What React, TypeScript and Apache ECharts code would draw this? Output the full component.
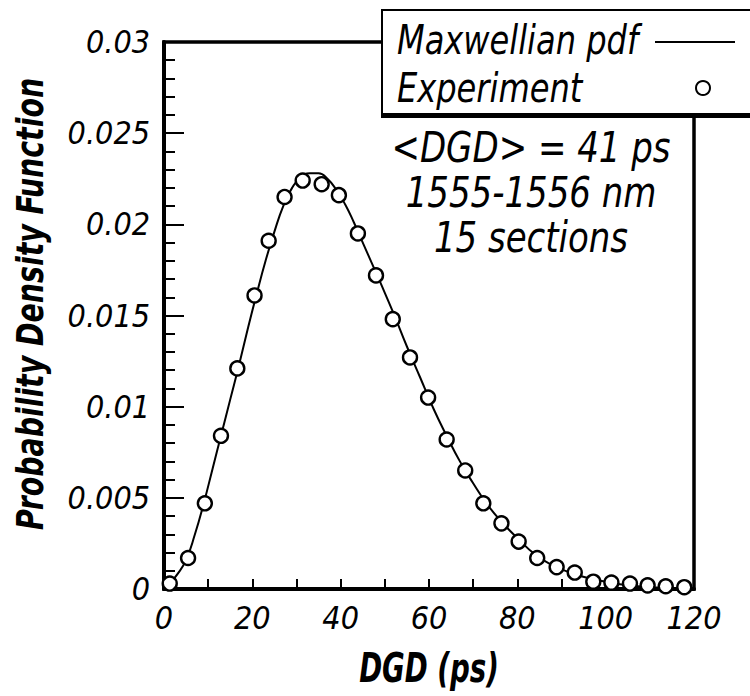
import { useEffect, useRef } from "react";
import * as echarts from "echarts";

// Experimental points (DGD in ps, probability density)
const expX = [1.3, 5.45, 9.25, 12.9, 16.6, 20.5, 23.7, 27.3, 31.4, 35.7, 39.6, 43.9, 48.0, 51.8, 55.7, 59.8, 64.0, 68.2, 72.3, 76.4, 80.3, 84.5, 88.9, 93.0, 97.2, 101.3, 105.5, 109.5, 113.6, 117.8];
const expY = [0.0003, 0.0017, 0.0047, 0.0084, 0.0121, 0.0161, 0.0191, 0.0215, 0.0224, 0.0222, 0.0216, 0.0195, 0.0172, 0.0148, 0.0127, 0.0105, 0.0082, 0.0065, 0.0047, 0.0036, 0.0026, 0.0017, 0.0012, 0.0009, 0.0004, 0.00035, 0.0003, 0.0002, 0.00015, 0.0001];

// Maxwellian pdf curve
const fitX = [1.3, 3, 5, 7, 9, 11, 13, 15, 17, 19, 21, 23, 25, 27, 29, 31, 33, 35, 37, 39, 41, 43, 45, 47, 49, 52, 55, 58, 61, 64, 67, 70, 73, 76, 80, 84, 88, 92, 96, 100, 105, 110, 118];
const fitY = [0.0003, 0.0008, 0.0016, 0.003, 0.0047, 0.0066, 0.0085, 0.0104, 0.0123, 0.0143, 0.0162, 0.018, 0.0196, 0.021, 0.022, 0.0226, 0.0228, 0.0228, 0.0225, 0.0219, 0.0211, 0.0201, 0.019, 0.0179, 0.0168, 0.0151, 0.0133, 0.0116, 0.0099, 0.0084, 0.007, 0.0058, 0.0047, 0.0038, 0.0028, 0.0019, 0.0013, 0.0009, 0.0006, 0.0004, 0.0002, 0.0001, 0.00005];

const legendNames = ["Maxwellian pdf", "Experiment"];
const noteLines = ["<DGD> = 41 ps", "1555-1556 nm", "15 sections"];
const xTitle = "DGD (ps)";
const yTitle = "Probability Density Function";

const FONT = "'DejaVu Sans Condensed', 'Liberation Sans Narrow', sans-serif";

export default function App() {
  const ref = useRef<HTMLDivElement>(null);
  useEffect(() => {
    const chart = echarts.init(ref.current!, null, { renderer: "svg" });
    const expData = expX.map((x, i) => [x, expY[i]]);
    const fitData = fitX.map((x, i) => [x, fitY[i]]);
    chart.setOption({
      animation: false,
      backgroundColor: "#fff",
      grid: {
        left: 164,
        right: 56,
        top: 42,
        bottom: 107,
        show: true,
        borderColor: "#000",
        borderWidth: 3.5,
      },
      xAxis: {
        type: "value",
        min: 0,
        max: 120,
        interval: 20,
        splitLine: { show: false },
        axisLine: { lineStyle: { color: "#000", width: 4 } },
        axisTick: { inside: true, length: 10, lineStyle: { color: "#000", width: 2 } },
        minorTick: { show: true, splitNumber: 2, length: 10, lineStyle: { color: "#000", width: 2 } },
        axisLabel: {
          margin: 13,
          color: "#000",
          fontFamily: FONT,
          fontStyle: "italic",
          fontSize: 32,
        },
      },
      yAxis: {
        type: "value",
        min: 0,
        max: 0.03,
        interval: 0.005,
        splitLine: { show: false },
        axisLine: { lineStyle: { color: "#000", width: 4 } },
        axisTick: { inside: true, length: 20, lineStyle: { color: "#000", width: 2 } },
        minorTick: { show: true, splitNumber: 5, length: 11, lineStyle: { color: "#000", width: 2 } },
        axisLabel: {
          margin: 14,
          color: "#000",
          fontFamily: FONT,
          fontStyle: "italic",
          fontSize: 32,
          formatter: (v: number) => String(+v.toFixed(3)),
        },
      },
      series: [
        {
          name: legendNames[0],
          type: "line",
          data: fitData,
          smooth: true,
          showSymbol: false,
          symbol: "none",
          lineStyle: { color: "#000", width: 2 },
          z: 2,
        },
        {
          name: legendNames[1],
          type: "scatter",
          data: expData,
          symbol: "circle",
          symbolSize: 14,
          itemStyle: { color: "#fff", opacity: 1, borderColor: "#000", borderWidth: 2.4 },
          z: 3,
        },
      ],
      graphic: [
        // axis titles (condensed horizontally to mimic the narrow face)
        {
          type: "text",
          z: 50,
          x: 429,
          y: 668,
          scaleX: 0.75,
          style: {
            text: xTitle,
            fill: "#000",
            font: `italic bold 41px ${FONT}`,
            align: "center",
            verticalAlign: "middle",
          },
        },
        {
          type: "text",
          z: 50,
          x: 30,
          y: 304,
          rotation: Math.PI / 2,
          scaleX: 0.83,
          style: {
            text: yTitle,
            fill: "#000",
            font: `italic bold 38px ${FONT}`,
            align: "center",
            verticalAlign: "middle",
          },
        },
        // legend box
        {
          type: "rect",
          z: 100,
          shape: { x: 382, y: 10, width: 420, height: 104 },
          style: { fill: "#fff", stroke: "#000", lineWidth: 2 },
        },
        {
          type: "line",
          z: 101,
          shape: { x1: 381, y1: 116, x2: 750, y2: 116 },
          style: { stroke: "#000", lineWidth: 4 },
        },
        {
          type: "text",
          z: 101,
          x: 397,
          y: 40,
          scaleX: 0.87,
          style: {
            text: legendNames[0],
            fill: "#000",
            font: `italic 41px ${FONT}`,
            verticalAlign: "middle",
          },
        },
        {
          type: "text",
          z: 101,
          x: 397,
          y: 88,
          scaleX: 0.87,
          style: {
            text: legendNames[1],
            fill: "#000",
            font: `italic 41px ${FONT}`,
            verticalAlign: "middle",
          },
        },
        {
          type: "line",
          z: 101,
          shape: { x1: 655, y1: 42, x2: 735, y2: 42 },
          style: { stroke: "#000", lineWidth: 2 },
        },
        {
          type: "circle",
          z: 101,
          shape: { cx: 703, cy: 88, r: 7 },
          style: { fill: "#fff", stroke: "#000", lineWidth: 2 },
        },
        // annotation
        ...noteLines.map((t, i) => ({
          type: "text",
          z: 101,
          x: 531,
          y: 147 + i * 45,
          scaleX: 0.9,
          style: {
            text: t,
            fill: "#000",
            font: `italic 42px ${FONT}`,
            align: "center",
            verticalAlign: "middle",
          },
        })),
      ],
    });
    return () => chart.dispose();
  }, []);
  return (
    <div
      ref={ref}
      style={{ position: "fixed", left: 0, top: 0, width: 750, height: 696 }}
    />
  );
}
